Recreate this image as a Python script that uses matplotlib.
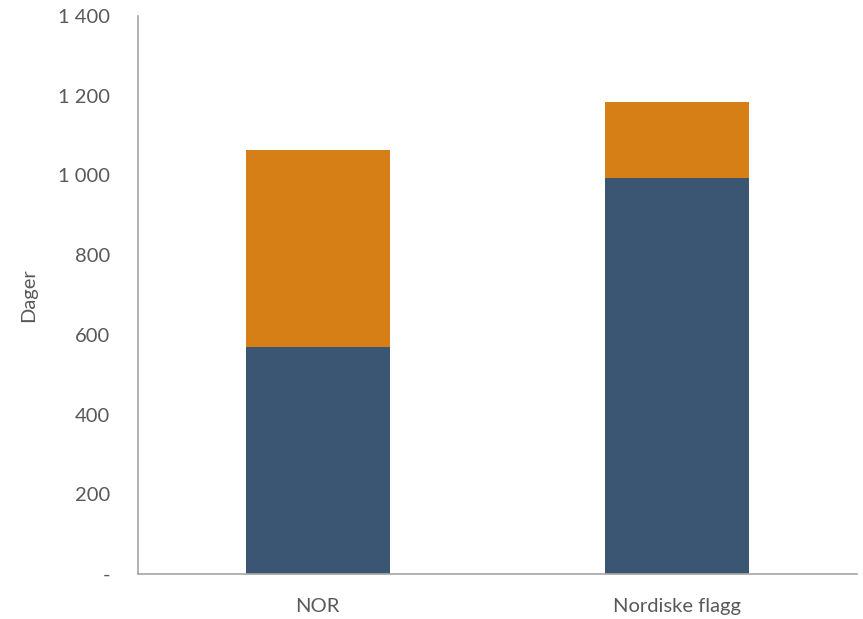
import matplotlib
matplotlib.use('Agg')
import matplotlib.pyplot as plt
from matplotlib.ticker import FuncFormatter

categories = ['NOR', 'Nordiske flagg']
bottom_values = [570, 993]
top_values = [494, 191]

blue = '#3a5673'
orange = '#d67f17'
text_color = '#595959'

plt.rcParams['font.family'] = ['Lato', 'DejaVu Sans']

fig = plt.figure(figsize=(8.63, 6.19), dpi=100)
ax = fig.add_axes([138 / 863, 1 - 574 / 619, (857 - 138) / 863, (574 - 16) / 619])

x = list(range(len(categories)))
ax.bar(x, bottom_values, width=0.4, color=blue)
ax.bar(x, top_values, width=0.4, bottom=bottom_values, color=orange)

ax.set_xlim(-0.5, 1.5)
ax.set_ylim(0, 1400)
ax.set_yticks(range(0, 1401, 200))


def fmt(v, pos):
    if v == 0:
        return '-'
    return '{:,.0f}'.format(v).replace(',', ' ')


ax.yaxis.set_major_formatter(FuncFormatter(fmt))
ax.set_xticks(x)
ax.set_xticklabels(categories)

for side in ['top', 'right']:
    ax.spines[side].set_visible(False)
for side in ['left', 'bottom']:
    ax.spines[side].set_color('#a6a6a6')
    ax.spines[side].set_linewidth(1.2)

ax.tick_params(axis='both', length=0, labelsize=14.5, colors=text_color)
ax.tick_params(axis='y', pad=20)
ax.tick_params(axis='x', pad=17)
ax.set_ylabel('Dager', fontsize=14.5, color=text_color, labelpad=15)

fig.savefig('out.png', dpi=100)
